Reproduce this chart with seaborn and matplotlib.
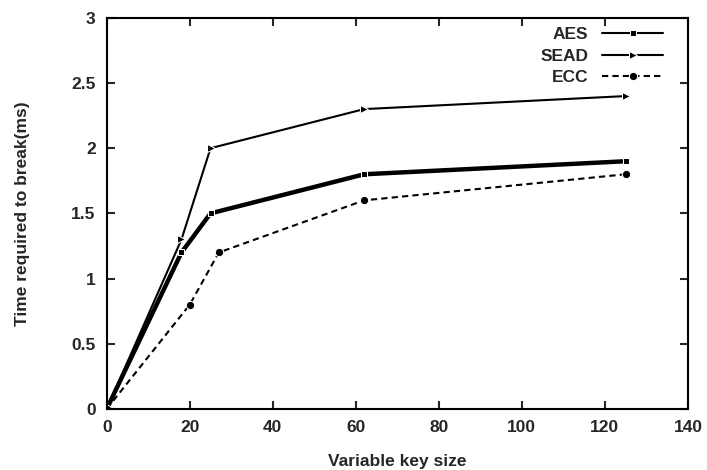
import matplotlib
matplotlib.use("Agg")
import matplotlib.pyplot as plt
import seaborn as sns
import pandas as pd

sns.set_style("ticks")
plt.rcParams['font.family'] = ['Liberation Sans', 'DejaVu Sans']

aes_x = [0, 18, 25, 62, 125]
aes_y = [0, 1.2, 1.5, 1.8, 1.9]
sead_x = [0, 18, 25, 62, 125]
sead_y = [0, 1.3, 2.0, 2.3, 2.4]
ecc_x = [0, 20, 27, 62, 125]
ecc_y = [0, 0.8, 1.2, 1.6, 1.8]

xticks = [0, 20, 40, 60, 80, 100, 120, 140]
yticks = [0, 0.5, 1, 1.5, 2, 2.5, 3]
ytick_labels = ["0", "0.5", "1", "1.5", "2", "2.5", "3"]

fig = plt.figure(figsize=(7.07, 4.70), dpi=100)
ax = fig.add_axes([0.151, 0.130, 0.822, 0.832])

df_aes = pd.DataFrame({"x": aes_x, "y": aes_y})
df_sead = pd.DataFrame({"x": sead_x, "y": sead_y})
df_ecc = pd.DataFrame({"x": ecc_x, "y": ecc_y})

sns.lineplot(data=df_aes, x="x", y="y", ax=ax, color="black", linewidth=3.2,
             marker="s", markersize=5, label="AES", sort=False)
sns.lineplot(data=df_sead, x="x", y="y", ax=ax, color="black", linewidth=1.5,
             marker=">", markersize=6, label="SEAD", sort=False)
sns.lineplot(data=df_ecc, x="x", y="y", ax=ax, color="black", linewidth=1.5,
             marker="o", markersize=6, label="ECC", sort=False, linestyle=(0, (3, 2)))

ax.set_xlim(0, 140)
ax.set_ylim(0, 3)
ax.set_xticks(xticks)
ax.set_yticks(yticks)
ax.set_xticklabels([str(t) for t in xticks], fontsize=12.5, fontweight="bold")
ax.set_yticklabels(ytick_labels, fontsize=12.5, fontweight="bold")
ax.tick_params(direction="in", top=True, right=True, length=6, width=1.5, pad=8)
for s in ax.spines.values():
    s.set_linewidth(1.5)
    s.set_color("black")

ax.set_xlabel("Variable key size", fontsize=12.5, fontweight="bold", labelpad=14)
ax.set_ylabel("Time required to break(ms)", fontsize=12.5, fontweight="bold", labelpad=30)

leg = ax.legend(loc="upper right", bbox_to_anchor=(0.969, 0.995), frameon=False,
                markerfirst=False, prop={"size": 12.5, "weight": "bold"},
                handlelength=3.5, labelspacing=0.38, borderaxespad=0.0)
for t in leg.get_texts():
    t.set_ha("right")
for h in leg.legend_handles:
    h.set_linewidth(1.5)

fig.savefig("out.png", dpi=100)
